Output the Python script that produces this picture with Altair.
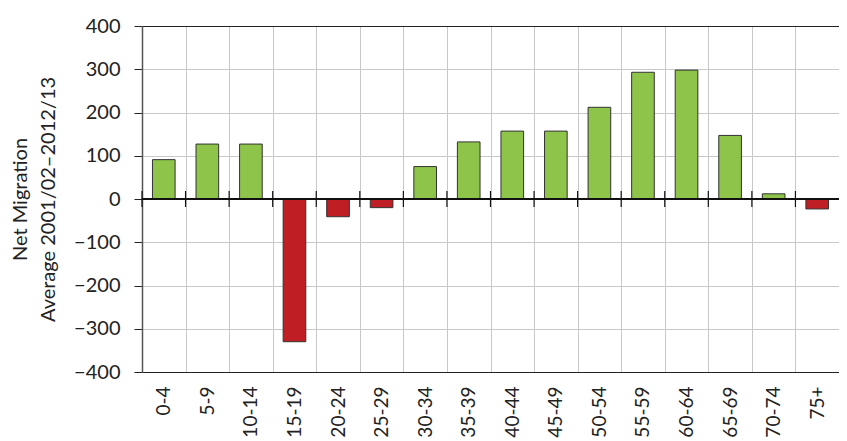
import altair as alt
import pandas as pd

ages = ["0-4", "5-9", "10-14", "15-19", "20-24", "25-29", "30-34", "35-39",
        "40-44", "45-49", "50-54", "55-59", "60-64", "65-69", "70-74", "75+"]
values = [91, 127, 127, -330, -41, -20, 75, 132, 157, 157, 212, 293, 298, 147, 12, -23]
signs = ["pos" if v >= 0 else "neg" for v in values]
y_ticks = [-400, -300, -200, -100, 0, 100, 200, 300, 400]

df = pd.DataFrame({"age": ages, "value": values, "sign": signs})

GREEN = "#8DC449"
RED = "#BE1E24"
GRID = "#c8c8c8"
FONT = "Lato"

x_axis = alt.Axis(
    title=None, labelAngle=-90, labelFontSize=19, labelFont=FONT, labelColor="#222",
    ticks=False, domain=False, grid=True, gridColor=GRID, tickBand="extent",
    labelPadding=14,
)
x_scale = alt.Scale(paddingInner=0, paddingOuter=0)

y_axis = alt.Axis(
    values=y_ticks,
    title=["Net Migration", "Average 2001/02\u20132012/13"],
    titleFontSize=20, titleFont=FONT, titleFontWeight="normal", titleColor="#222",
    titleLineHeight=28, titlePadding=15,
    labelFontSize=20, labelFont=FONT, labelColor="#222", labelPadding=14,
    tickSize=8, tickColor="#222", domainColor="#555", domainWidth=1.5,
    gridColor={"expr": "abs(datum.value) == 400 ? '#222' : '#c8c8c8'"},
)
y_scale = alt.Scale(domain=[-400, 400], nice=False)

bars = alt.Chart(df).mark_bar(
    width={"band": 0.52}, stroke="#333", strokeWidth=1
).encode(
    x=alt.X("age:N", sort=ages, scale=x_scale, axis=x_axis),
    y=alt.Y("value:Q", scale=y_scale, axis=y_axis),
    color=alt.Color("sign:N", scale=alt.Scale(domain=["pos", "neg"], range=[GREEN, RED]), legend=None),
)

zero_line = alt.Chart(df).mark_rule(color="#111", strokeWidth=1.2).encode(
    y=alt.datum(0)
)

zero_ticks = alt.Chart(df).mark_rule(color="#111", strokeWidth=1.2, yOffset=-8, y2Offset=8).encode(
    x=alt.X("age:N", sort=ages, scale=x_scale, axis=x_axis, bandPosition=0),
    y=alt.datum(0),
    y2=alt.datum(0),
)

chart = alt.layer(bars, zero_line, zero_ticks).properties(
    width=697, height=346,
    autosize=alt.AutoSizeParams(type="none"),
    padding={"left": 134, "top": 18, "right": 0, "bottom": 69},
    background="white",
).configure_view(stroke=None)

chart.save("out.html", embed_options={"renderer": "svg", "actions": False})
